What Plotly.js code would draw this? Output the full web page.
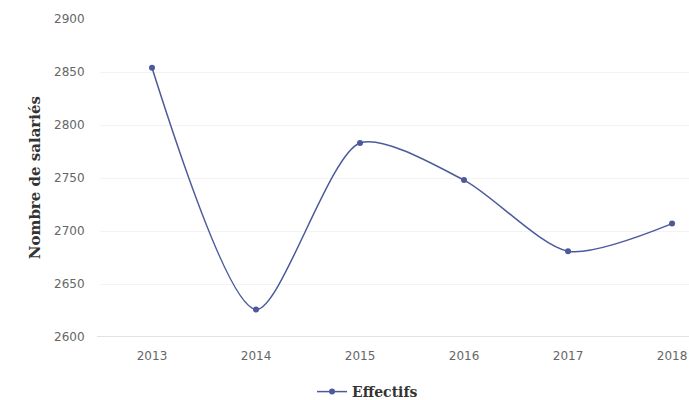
<!DOCTYPE html>
<html><head><meta charset="utf-8">
<script src="https://cdn.plot.ly/plotly-3.0.1.min.js"></script>
<style>html,body{margin:0;padding:0;background:#fff}#c{width:689px;height:400px}</style>
</head><body><div id="c"></div>
<script>
var years = ["2013","2014","2015","2016","2017","2018"];
var effectifs = [2854, 2626, 2783, 2748, 2681, 2707];
var yTicks = [2600, 2650, 2700, 2750, 2800, 2850, 2900];
var seriesName = "Effectifs";
var yTitle = "Nombre de salariés";

Plotly.newPlot("c", [{
  x: years, y: effectifs, name: seriesName, type: "scatter", mode: "lines+markers",
  line: {color: "#4c5a9c", width: 1.5, shape: "spline", smoothing: 0.75},
  marker: {color: "#4c5a9c", size: 6, symbol: "circle"}
}], {
  width: 689, height: 400,
  margin: {l: 100, r: 0, t: 19, b: 63},
  paper_bgcolor: "#fff", plot_bgcolor: "#fff",
  font: {family: "'DejaVu Sans', sans-serif", color: "#666", size: 12},
  xaxis: {type: "category", range: [-0.5, 5.163], showgrid: false, zeroline: false,
    showline: false, ticks: "outside", ticklen: 8, tickcolor: "rgba(0,0,0,0)",
    tickfont: {family: "'DejaVu Sans', sans-serif", size: 12, color: "#666"}},
  yaxis: {range: [2600, 2900], tickvals: yTicks, showgrid: true, gridcolor: "#f3f3f3",
    zeroline: false, showline: false, ticks: "outside", ticklen: 12, tickcolor: "rgba(0,0,0,0)",
    tickfont: {family: "'DejaVu Sans', sans-serif", size: 12, color: "#666"}},
  annotations: [{text: yTitle, xref: "paper", yref: "paper", x: -0.110, y: 0.5,
    xanchor: "center", yanchor: "middle", showarrow: false, textangle: -90,
    font: {family: "'DejaVu Serif', serif", size: 15, color: "#333", weight: "bold"}}],
  shapes: [{type: "line", xref: "paper", yref: "y", x0: -0.005, x1: 1, y0: 2600, y1: 2600,
    line: {color: "#e2e2e2", width: 2}}],
  showlegend: true,
  legend: {orientation: "h", x: 0.36, xanchor: "left", yref: "container", y: 0.02, yanchor: "middle",
    font: {family: "'DejaVu Serif', serif", size: 14, color: "#333", weight: "bold"}}
}, {displayModeBar: false, staticPlot: true});
</script></body></html>
